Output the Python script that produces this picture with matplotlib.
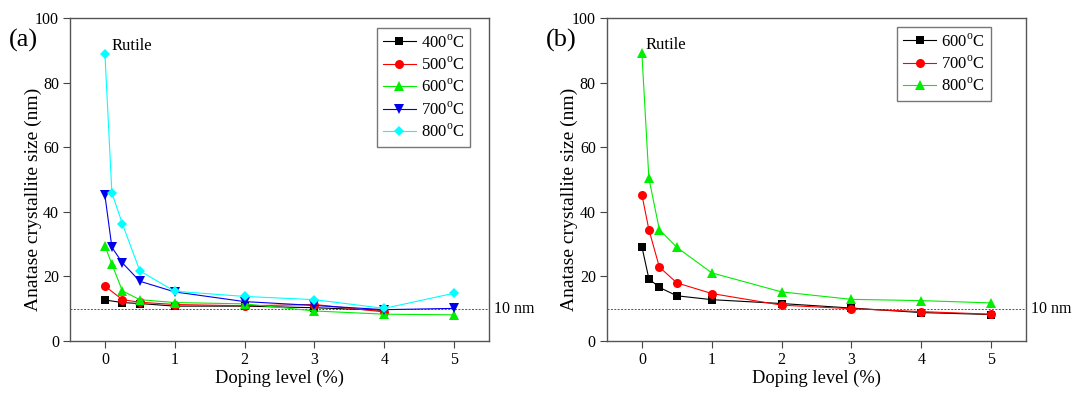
import matplotlib
matplotlib.use("Agg")
import matplotlib.pyplot as plt

plt.rcParams['font.family'] = ['Liberation Serif', 'DejaVu Serif']
plt.rcParams['mathtext.fontset'] = 'custom'
plt.rcParams['mathtext.rm'] = 'Liberation Serif'

# Panel (a)
x_full = [0, 0.1, 0.25, 0.5, 1, 2, 3, 4, 5]
x_a_low = [0, 0.25, 0.5, 1, 2, 3, 4]
a_400 = [12.7, 11.9, 11.6, 10.8, 10.8, 10.3, 9.5]
a_500 = [17.0, 12.8, 12.0, 11.3, 10.9, 11.3, 9.0]
a_600 = [29.4, 23.8, 15.5, 12.8, 11.9, 11.5, 9.3, 8.3, 8.1]
a_700 = [45.1, 29.0, 24.2, 18.5, 15.2, 12.2, 11.0, 9.7, 10.1]
a_800 = [88.9, 45.8, 36.3, 21.7, 15.4, 13.8, 12.8, 10.1, 14.8]

# Panel (b)
b_600 = [29.2, 19.3, 16.6, 14.0, 12.8, 11.6, 10.2, 8.8, 8.2]
b_700 = [45.3, 34.5, 22.9, 18.0, 14.7, 11.1, 10.0, 9.1, 8.3]
b_800 = [89.1, 50.4, 34.5, 29.0, 21.1, 15.2, 12.9, 12.5, 11.8]

xticks = [0, 1, 2, 3, 4, 5]
yticks = [0, 20, 40, 60, 80, 100]
ref_level = 10

fig = plt.figure(figsize=(10.72, 3.93), dpi=100)
axA = fig.add_axes([0.0653, 0.1323, 0.3909, 0.8219])
axB = fig.add_axes([0.5662, 0.1323, 0.3909, 0.8219])

def lab(t):
    return r'%d$^{\mathrm{o}}$C' % t

kw = dict(lw=0.8, ms=6.5, markeredgewidth=0)
kws = dict(lw=0.8, ms=5.5, markeredgewidth=0)
axA.plot(x_a_low, a_400, color='black', marker='s', label=lab(400), **kws)
axA.plot(x_a_low, a_500, color='red', marker='o', label=lab(500), **kw)
axA.plot(x_full, a_600, color='#00ee00', marker='^', label=lab(600), **kw)
axA.plot(x_full, a_700, color='#0000ee', marker='v', label=lab(700), **kw)
axA.plot(x_full, a_800, color='cyan', marker='D', label=lab(800), **kws)

axB.plot(x_full, b_600, color='black', marker='s', label=lab(600), **kws)
axB.plot(x_full, b_700, color='red', marker='o', label=lab(700), **kw)
axB.plot(x_full, b_800, color='#00ee00', marker='^', label=lab(800), **kw)

panels = [(axA, '(a)', 0.1, 88.9, (0.955, 0.969)),
          (axB, '(b)', 0.05, 89.1, (0.916, 0.972))]
for ax, letter, rx, ry, anchor in panels:
    ax.axhline(ref_level, color='#555555', lw=0.7, ls=(0, (2, 1.5)), zorder=0)
    ax.set_xlim(-0.5, 5.5)
    ax.set_ylim(0, 100)
    ax.set_xticks(xticks)
    ax.set_yticks(yticks)
    ax.tick_params(direction='out', length=5, width=0.8, labelsize=11.5,
                   color='#444444', pad=3)
    for s in ax.spines.values():
        s.set_color('#555555')
        s.set_linewidth(1.0)
    ax.set_xlabel('Doping level (%)', fontsize=13.3, labelpad=1)
    ax.set_ylabel('Anatase crystallite size (nm)', fontsize=14)
    ax.yaxis.set_label_coords(-0.068, 0.437)
    ax.text(1.012, ref_level, '10 nm', transform=ax.get_yaxis_transform(),
            fontsize=11.5, va='center', ha='left')
    ax.text(rx, ry + 2.5, 'Rutile', fontsize=12, ha='left', va='center')
    ax.text(-0.145, 0.93, letter, transform=ax.transAxes, fontsize=19,
            ha='left', va='center')
    leg = ax.legend(loc='upper right', fontsize=12, frameon=True, fancybox=False,
                    edgecolor='#555555', handlelength=2.0, borderpad=0.35,
                    labelspacing=0.3, handletextpad=0.3, borderaxespad=0,
                    bbox_to_anchor=anchor)
    leg.get_frame().set_linewidth(1.0)

fig.savefig('out.png', dpi=100)
